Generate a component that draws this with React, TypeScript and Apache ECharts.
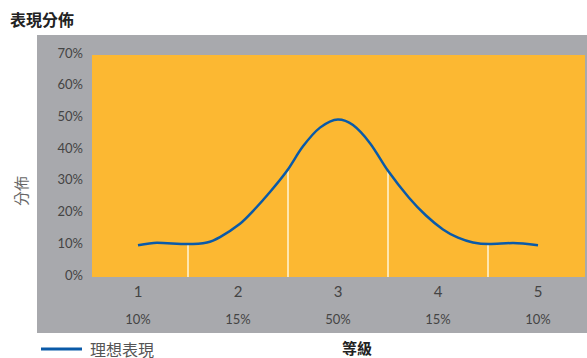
import React, { useEffect, useRef } from "react";
import * as echarts from "echarts";

const grades = [1, 2, 3, 4, 5];
const gradeShares = ["10%", "15%", "50%", "15%", "10%"];
const yTicks = [0, 10, 20, 30, 40, 50, 60, 70];
// ideal performance curve: [grade position, percent]
const curveX = [1.0, 1.19, 1.49, 1.69, 1.82, 2.02, 2.15, 2.32, 2.49, 2.65, 2.82, 3.0, 3.15, 3.32, 3.5, 3.71, 3.88, 4.05, 4.2, 4.35, 4.51, 4.75, 5.0];
const curveY = [10.0, 10.8, 10.4, 10.9, 12.6, 16.8, 20.8, 26.8, 33.5, 41.2, 47.1, 49.7, 47.9, 42.2, 33.5, 25.0, 19.4, 15.0, 12.4, 10.9, 10.4, 10.7, 10.0];
const boundaries = [1.5, 2.5, 3.5, 4.5];
const boundaryHeights = [10.4, 33.4, 33.4, 10.4];

export default function App() {
  const ref = useRef<HTMLDivElement>(null);
  useEffect(() => {
    if (!ref.current) return;
    const chart = echarts.init(ref.current, null, { renderer: "svg" });
    const font = "Lato, 'Noto Sans', sans-serif";
    const cjk = "'Noto Sans CJK TC', 'Noto Sans CJK SC', sans-serif";
    chart.setOption({
      animation: false,
      grid: {
        left: 92,
        right: 2,
        top: 55,
        bottom: 81,
        show: true,
        backgroundColor: "#fcb832",
        borderWidth: 0,
        z: 1,
      },
      graphic: [
        {
          type: "rect",
          z: -10,
          silent: true,
          shape: { x: 37, y: 35, width: 550, height: 298 },
          style: { fill: "#a8a9ad" },
        },
        {
          type: "text",
          left: 10,
          top: 11,
          style: { text: "表現分佈", font: `bold 16px ${cjk}`, fill: "#222" },
        },
        {
          type: "text",
          x: 20,
          y: 191,
          rotation: Math.PI / 2,
          style: {
            text: "分佈",
            font: `15px ${cjk}`,
            fill: "#666",
            align: "center",
            verticalAlign: "middle",
          },
        },
        {
          type: "text",
          x: 357,
          y: 347,
          style: {
            text: "等級",
            font: `bold 15px ${cjk}`,
            fill: "#222",
            align: "center",
            verticalAlign: "middle",
          },
        },
      ],
      legend: {
        left: 36,
        top: 336,
        icon: "rect",
        itemWidth: 41,
        itemHeight: 3,
        itemGap: 8,
        textStyle: { fontFamily: cjk, fontSize: 16, lineHeight: 16, color: "#555", padding: [0, 0, 0, 3] },
        data: ["理想表現"],
      },
      xAxis: {
        type: "value",
        min: 0.54,
        max: 5.47,
        axisLine: { show: false },
        axisTick: { show: false },
        splitLine: { show: false },
        axisLabel: {
          customValues: grades,
          margin: 0,
          formatter: (v: number) => {
            const i = grades.indexOf(Math.round(v));
            return `{n|${grades[i]}}\n{p|${gradeShares[i]}}`;
          },
          rich: {
            n: { fontFamily: font, fontSize: 15, color: "#444", lineHeight: 28 },
            p: { fontFamily: font, fontSize: 13, color: "#444", lineHeight: 28 },
          },
        },
      },
      yAxis: {
        type: "value",
        min: 0,
        max: 70,
        interval: 10,
        axisLine: { show: false },
        axisTick: { show: false },
        splitLine: { show: false },
        axisLabel: {
          margin: 9,
          fontFamily: font,
          fontSize: 13,
          color: "#444",
          formatter: (v: number) => (yTicks.includes(v) ? `{a|${v}%}` : ""),
          rich: { a: { fontFamily: font, fontSize: 13, color: "#444", padding: [0, 0, 5, 0] } },
        },
      },
      series: [
        {
          name: "理想表現",
          type: "line",
          data: curveX.map((x, i) => [x, curveY[i]]),
          smooth: 0.3,
          showSymbol: false,
          symbol: "none",
          color: "#0a5aa8",
          lineStyle: { color: "#0a5aa8", width: 2.5 },
          z: 5,
          markLine: {
            silent: true,
            symbol: "none",
            label: { show: false },
            lineStyle: { color: "#fff6d8", width: 1.5, type: "solid" },
            z: 3,
            data: boundaries.map((b, i) => [
              { coord: [b, 0] },
              { coord: [b, boundaryHeights[i]] },
            ]),
          },
        },
      ],
    });
    return () => chart.dispose();
  }, []);
  return <div ref={ref} style={{ width: 587, height: 358, position: "absolute", left: 0, top: 0 }} />;
}
